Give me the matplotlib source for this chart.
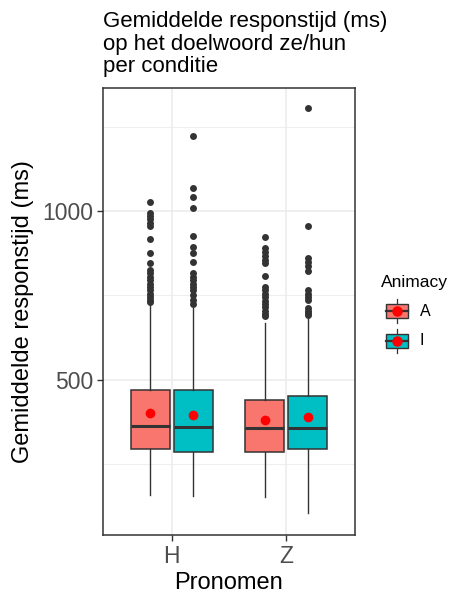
import matplotlib
matplotlib.use("Agg")
import matplotlib.pyplot as plt
from matplotlib.patches import Rectangle
from matplotlib.lines import Line2D

plt.rcParams['font.family'] = ['Liberation Sans', 'DejaVu Sans']

# data (ms)
pronomen = ["H", "Z"]
animacy = ["A", "I"]
colors = {"A": "#F8766D", "I": "#00BFC4"}

q1 = {("H", "A"): 295, ("H", "I"): 287, ("Z", "A"): 287, ("Z", "I"): 295}
med = {("H", "A"): 365, ("H", "I"): 361, ("Z", "A"): 357, ("Z", "I"): 357}
q3 = {("H", "A"): 470, ("H", "I"): 470, ("Z", "A"): 440, ("Z", "I"): 451}
mean = {("H", "A"): 403, ("H", "I"): 396, ("Z", "A"): 381, ("Z", "I"): 389}
whislo = {("H", "A"): 160, ("H", "I"): 155, ("Z", "A"): 152, ("Z", "I"): 106}
whishi = {("H", "A"): 728, ("H", "I"): 713, ("Z", "A"): 669, ("Z", "I"): 683}
fliers = {
    ("H", "A"): [1026, 995, 985, 975, 965, 955, 916, 877, 846, 825, 815,
                 805, 795, 785, 775, 765, 755, 745, 738, 732],
    ("H", "I"): [1223, 1069, 1042, 1010, 927, 892, 877, 849, 817, 805,
                 795, 785, 775, 765, 750, 737, 725],
    ("Z", "A"): [922, 890, 878, 866, 855, 845, 808, 776, 765, 755, 745,
                 735, 725, 715, 705, 695, 688],
    ("Z", "I"): [1304, 957, 862, 850, 838, 822, 766, 755, 745, 738, 712,
                 705, 698, 692],
}

W, H = 453, 599
fig = plt.figure(figsize=(W / 100, H / 100), dpi=100)
ax = fig.add_axes([103 / W, 1 - 535 / H, 252 / W, 447 / H])

grey20 = "#333333"
dodge = 0.1875
bw = 0.3375

for i, p in enumerate(pronomen):
    for j, a in enumerate(animacy):
        k = (p, a)
        pos = i + 1 + (dodge if j else -dodge)
        st = dict(med=med[k], q1=q1[k], q3=q3[k], whislo=whislo[k],
                  whishi=whishi[k], mean=mean[k], fliers=fliers[k])
        ax.bxp([st], positions=[pos], widths=bw, patch_artist=True,
               showmeans=True, showcaps=False, manage_ticks=False,
               boxprops=dict(facecolor=colors[a], edgecolor=grey20, linewidth=1.1),
               medianprops=dict(color=grey20, linewidth=2.2),
               whiskerprops=dict(color=grey20, linewidth=1.0),
               flierprops=dict(marker="o", markerfacecolor=grey20,
                               markeredgecolor="none", markersize=5.0),
               meanprops=dict(marker="o", markerfacecolor="red",
                              markeredgecolor="none", markersize=7.0),
               zorder=3)

ax.set_xlim(0.4, 2.6)
ax.set_ylim(41, 1364)
ax.set_xticks([1, 2])
ax.set_xticklabels(pronomen)
ax.set_yticks([500, 1000])
ax.set_yticks([250, 750, 1250], minor=True)
ax.grid(True, which="major", color="#EBEBEB", linewidth=1.1, zorder=0)
ax.grid(True, which="minor", axis="y", color="#EBEBEB", linewidth=0.6, zorder=0)
ax.set_axisbelow(True)
for s in ax.spines.values():
    s.set_color(grey20)
    s.set_linewidth(1.1)
ax.tick_params(which="major", length=4, width=1.0, color=grey20,
               labelsize=16.5, labelcolor="#4D4D4D", pad=3)
ax.tick_params(which="minor", length=0)

ax.set_xlabel("Pronomen", fontsize=17, labelpad=3)
ax.set_ylabel("Gemiddelde responstijd (ms)", fontsize=17, labelpad=6)

fig.text(103 / W, 1 - 11 / H,
         "Gemiddelde responstijd (ms)\nop het doelwoord ze/hun\nper conditie",
         ha="left", va="top", fontsize=16, linespacing=1.1)

# legend drawn in pixel units
lg = fig.add_axes([370 / W, 1 - 360 / H, 83 / W, 100 / H])
lg.set_xlim(370, 453)
lg.set_ylim(360, 260)
lg.axis("off")
lg.text(381, 283, "Animacy", fontsize=12.5, va="center", ha="left")
for a, cy in zip(animacy, [311.5, 341]):
    lg.add_line(Line2D([397, 397], [cy - 12, cy + 12], color=grey20, lw=0.9))
    lg.add_patch(Rectangle((386, cy - 7), 22, 14, facecolor=colors[a],
                           edgecolor=grey20, lw=1.0, zorder=2))
    lg.add_line(Line2D([386, 408], [cy, cy], color=grey20, lw=1.6, zorder=3))
    lg.plot([397], [cy], marker="o", color="red", markersize=6.5, zorder=4)
    lg.text(420, cy, a, fontsize=11.5, va="center", ha="left")

fig.savefig("out.png", dpi=100)
